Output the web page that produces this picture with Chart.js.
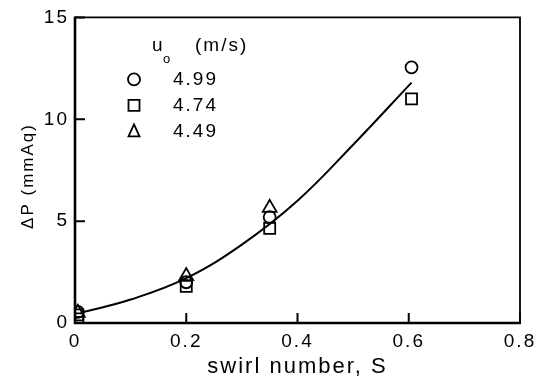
<!DOCTYPE html>
<html><head><meta charset="utf-8">
<script src="https://cdn.jsdelivr.net/npm/chart.js@4"></script>
<style>html,body{margin:0;padding:0;background:#fff}</style>
</head><body>
<canvas id="c" width="549" height="380" style="width:549px;height:380px"></canvas>
<script>
// ---- data ----
const seriesLabels = ['4.99', '4.74', '4.49'];
const circleS = [0.005, 0.2, 0.35, 0.605];
const circleP = [0.55, 2.0, 5.2, 12.55];
const squareS = [0.005, 0.005, 0.2, 0.35, 0.605];
const squareP = [0.2, 0.4, 1.8, 4.65, 11.0];
const triangleS = [0.005, 0.2, 0.35];
const triangleP = [0.5, 2.3, 5.65];
const curveS = [0.01, 0.1, 0.2, 0.3, 0.4, 0.5, 0.605];
const curveP = [0.5, 1.15, 2.2, 3.85, 6.0, 8.75, 11.8];
const xTickLabels = ['0', '0.2', '0.4', '0.6', '0.8'];
const yTickLabels = ['0', '5', '10', '15'];
const legendTitle = 'u';
const legendSub = 'o';
const legendUnit = '(m/s)';
const xTitle = 'swirl number, S';
const yTitle = '\u0394P (mmAq)';

const FONT = "'Liberation Sans', Arial, sans-serif";
const pts = (xs, ys) => xs.map((v, i) => ({x: v, y: ys[i]}));

const spacing = {
  id: 'spacing',
  beforeUpdate(chart) { chart.ctx.letterSpacing = '2px'; },
  beforeDraw(chart) { chart.ctx.letterSpacing = '2px'; }
};

function marker(ctx, style, x, y) {
  ctx.beginPath();
  if (style === 'circle') ctx.arc(x, y, 6, 0, Math.PI * 2);
  else if (style === 'rect') ctx.rect(x - 5.5, y - 5.5, 11, 11);
  else { ctx.moveTo(x, y - 7); ctx.lineTo(x + 5.5, y + 5); ctx.lineTo(x - 5.5, y + 5); ctx.closePath(); }
  ctx.stroke();
}

const frame = {
  id: 'frame',
  afterDraw(chart) {
    const {ctx, chartArea: a, scales: {x, y}} = chart;
    ctx.save();
    ctx.strokeStyle = '#000';
    ctx.lineWidth = 1.8;
    ctx.beginPath();
    ctx.moveTo(a.left, a.top); ctx.lineTo(a.right, a.top); ctx.lineTo(a.right, a.bottom);
    ctx.stroke();
    ctx.lineWidth = 2.6;
    ctx.beginPath();
    ctx.moveTo(a.left, a.top - 1); ctx.lineTo(a.left, a.bottom); ctx.lineTo(a.right + 1, a.bottom);
    ctx.stroke();
    ctx.lineWidth = 2;
    ctx.beginPath();
    x.ticks.forEach(t => { const p = x.getPixelForValue(t.value); ctx.moveTo(p, a.bottom); ctx.lineTo(p, a.bottom - 10); });
    y.ticks.forEach(t => { const p = y.getPixelForValue(t.value); ctx.moveTo(a.left, p); ctx.lineTo(a.left + 10, p); });
    ctx.stroke();

    // y-axis title, centred where the reference puts it
    ctx.save();
    ctx.translate(28, 176);
    ctx.rotate(-Math.PI / 2);
    ctx.textAlign = 'center';
    ctx.textBaseline = 'middle';
    ctx.fillStyle = '#000';
    ctx.font = '17px ' + FONT;
    ctx.fillText(yTitle, 0, 0);
    ctx.restore();

    // in-plot legend
    ctx.fillStyle = '#000';
    ctx.textBaseline = 'middle';
    ctx.textAlign = 'left';
    ctx.font = '19px ' + FONT;
    ctx.fillText(legendTitle, a.left + 77, a.top + 28);
    ctx.fillText(legendUnit, a.left + 120, a.top + 28);
    ctx.font = '13px ' + FONT;
    ctx.fillText(legendSub, a.left + 88, a.top + 42);
    const styles = ['circle', 'rect', 'triangle'];
    chart.data.datasets.filter(d => d.isSeries).forEach((d, i) => {
      const yy = a.top + 62 + i * 26;
      ctx.lineWidth = 1.8;
      marker(ctx, styles[i], a.left + 59, yy);
      ctx.font = '19px ' + FONT;
      ctx.fillText(d.label, a.left + 98, yy);
    });
    ctx.restore();
  }
};

const tickFont = {family: FONT, size: 19};

new Chart(document.getElementById('c'), {
  type: 'scatter',
  data: {
    datasets: [
      {label: 'fit', data: pts(curveS, curveP), showLine: true, pointRadius: 0, borderColor: '#000', borderWidth: 2, tension: 0.4, fill: false},
      {label: seriesLabels[0], isSeries: true, data: pts(circleS, circleP), pointStyle: 'circle', pointRadius: 6, borderColor: '#000', backgroundColor: 'rgba(0,0,0,0)', borderWidth: 1.8},
      {label: seriesLabels[1], isSeries: true, data: pts(squareS, squareP), pointStyle: 'rect', pointRadius: 7.8, borderColor: '#000', backgroundColor: 'rgba(0,0,0,0)', borderWidth: 1.8},
      {label: seriesLabels[2], isSeries: true, data: pts(triangleS, triangleP), pointStyle: 'triangle', pointRadius: 8, borderColor: '#000', backgroundColor: 'rgba(0,0,0,0)', borderWidth: 1.8}
    ]
  },
  options: {
    responsive: false,
    animation: false,
    devicePixelRatio: 1,
    layout: {padding: {left: 0, top: 16, right: 29, bottom: 0}},
    plugins: {legend: {display: false}, tooltip: {enabled: false}},
    scales: {
      x: {
        type: 'linear', min: 0, max: 0.8,
        ticks: {stepSize: 0.2, color: '#000', font: tickFont, padding: 7, maxRotation: 0,
          callback: (v, i) => xTickLabels[i]},
        grid: {display: false, drawTicks: false},
        border: {display: false},
        title: {display: true, text: xTitle, color: '#000', font: {family: FONT, size: 22}, padding: {top: 0, bottom: 0}},
        afterFit: s => { s.height = 57; }
      },
      y: {
        type: 'linear', min: 0, max: 15,
        ticks: {stepSize: 5, color: '#000', font: tickFont, padding: 6,
          callback: (v, i) => yTickLabels[i]},
        grid: {display: false, drawTicks: false},
        border: {display: false},
        title: {display: false},
        afterFit: s => { s.width = 75; }
      }
    }
  },
  plugins: [spacing, frame]
});
</script>
</body></html>
